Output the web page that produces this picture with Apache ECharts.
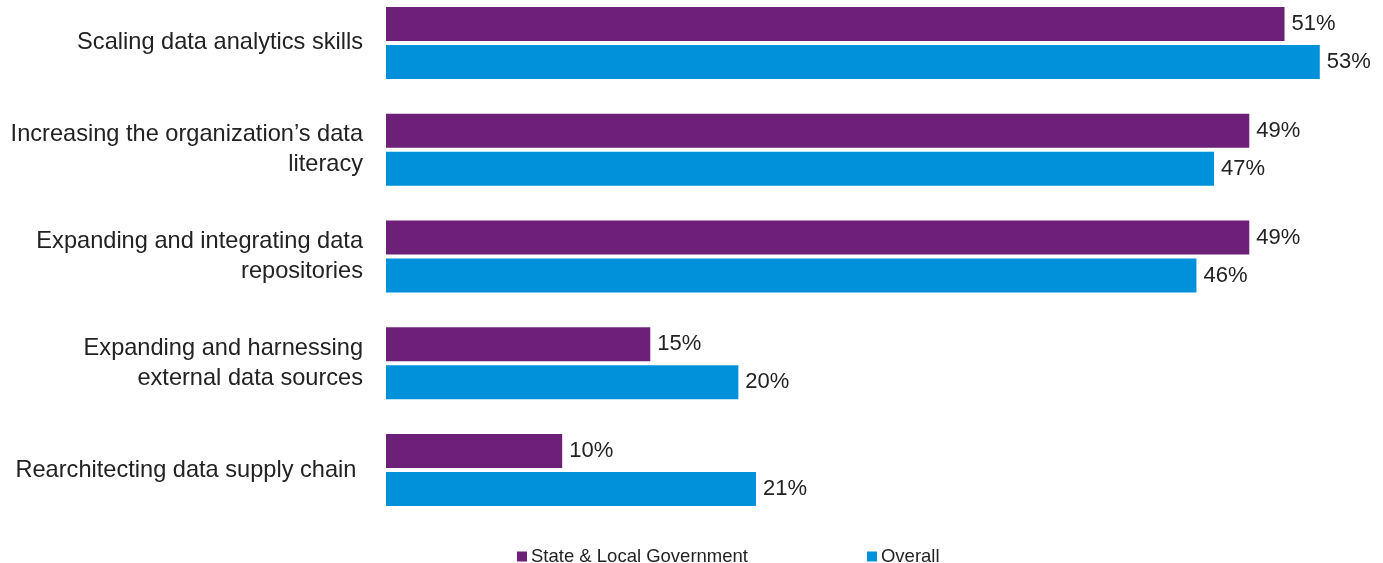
<!DOCTYPE html>
<html>
<head>
<meta charset="utf-8">
<script src="https://cdn.jsdelivr.net/npm/echarts@6/dist/echarts.min.js"></script>
<style>
html,body{margin:0;padding:0;background:#fff;}
#chart{width:1383px;height:563px;}
</style>
</head>
<body>
<div id="chart"></div>
<script>
const categories = [
  "Scaling data analytics skills",
  "Increasing the organization\u2019s data\nliteracy",
  "Expanding and integrating data\nrepositories",
  "Expanding and harnessing\nexternal data sources",
  "Rearchitecting data supply chain "
];
const stateLocal = [51, 49, 49, 15, 10];
const overall = [53, 47, 46, 20, 21];
const seriesNames = ["State & Local Government", "Overall"];

const FONT = 'Liberation Sans, Arial, sans-serif';
const chart = echarts.init(document.getElementById('chart'));
const labelStyle = {
  show: true,
  position: 'right',
  distance: 7,
  formatter: '{c}%',
  color: '#222',
  fontSize: 22,
  fontFamily: FONT
};
chart.setOption({
  animation: false,
  grid: { left: 386, top: -10.5, height: 534, width: 969, containLabel: false, outerBoundsMode: 'none' },
  xAxis: {
    type: 'value', min: 0, max: 55,
    show: false
  },
  yAxis: {
    type: 'category',
    data: categories,
    inverse: true,
    axisLine: { show: false },
    axisTick: { show: false },
    axisLabel: {
      margin: 23,
      color: '#222',
      fontSize: 23.6,
      lineHeight: 30,
      align: 'right',
      padding: [4, 0, 0, 0],
      fontFamily: FONT
    }
  },
  legend: {
    left: 512, top: 542,
    itemWidth: 10, itemHeight: 10,
    itemGap: 119,
    icon: 'rect',
    textStyle: { fontSize: 18.5, color: '#222', fontFamily: FONT, padding: [0,0,0,-1] },
    data: seriesNames
  },
  series: [
    {
      name: seriesNames[0], type: 'bar', data: stateLocal,
      itemStyle: { color: '#6D2077' },
      barWidth: 34, barGap: '11.8%', barCategoryGap: '32.7%',
      label: labelStyle
    },
    {
      name: seriesNames[1], type: 'bar', data: overall,
      itemStyle: { color: '#0091DA' },
      barWidth: 34,
      label: labelStyle
    }
  ]
});
</script>
</body>
</html>
